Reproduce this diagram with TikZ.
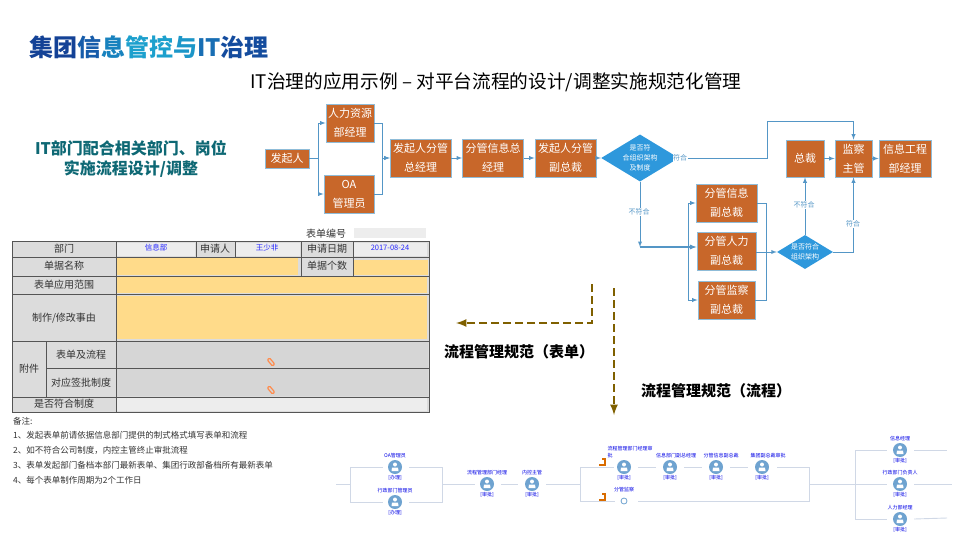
\documentclass[tikz,border=0pt]{standalone}
\usepackage{fontspec}
\setmainfont{Noto Sans CJK SC}
\usetikzlibrary{arrows}
\usetikzlibrary{shapes.geometric}
\definecolor{myorange}{RGB}{200, 103, 42}
\definecolor{myedge}{RGB}{143, 188, 216}
\definecolor{myflow}{RGB}{84, 150, 198}
\definecolor{mydiamond}{RGB}{46, 152, 220}
\definecolor{mybrown}{RGB}{127, 96, 0}
\definecolor{myteal}{RGB}{14, 104, 116}
\definecolor{myyellow}{RGB}{255, 219, 138}
\definecolor{mycell}{RGB}{220, 220, 220}
\definecolor{myinput}{RGB}{237, 237, 237}
\definecolor{myattach}{RGB}{214, 214, 214}
\definecolor{myrule}{RGB}{85, 85, 85}
\definecolor{myuser}{RGB}{111, 163, 208}
\definecolor{mybranch}{RGB}{208, 216, 230}
\tikzset{
  stepbox/.style={draw=myedge,fill=myorange,text=white,line width=0.8pt,inner sep=0pt,align=center,font=\fontsize{11}{19}\selectfont},
  askbox/.style={diamond,aspect=1.65,fill=mydiamond,text=white,inner sep=0pt,minimum width=56pt,minimum height=34pt,align=center,font=\fontsize{7}{9.7}\selectfont},
  flow/.style={draw=myflow,line width=0.9pt,-latex},
  flowplain/.style={draw=myflow,line width=0.9pt},
  flowtag/.style={fill=white,text=myflow,inner sep=0.5pt,font=\fontsize{7}{8}\selectfont},
  formtext/.style={text=black!80,inner sep=0pt,font=\fontsize{10}{11}\selectfont},
  formvalue/.style={text=blue!85!white,inner sep=0pt,font=\fontsize{7.5}{8}\selectfont},
  notetext/.style={anchor=west,text=black!80,inner sep=0pt,font=\fontsize{8.5}{10}\selectfont},
  refer/.style={draw=mybrown,line width=2.5pt,dash pattern=on 8pt off 4pt,-latex},
  refertext/.style={inner sep=0pt,font=\bfseries\fontsize{15}{17}\selectfont},
  user/.style={circle,fill=myuser,inner sep=0pt,minimum size=14pt},
  usertext/.style={text=blue!90!black,inner sep=0pt,align=left,font=\fontsize{5}{6.5}\selectfont},
  branch/.style={draw=mybranch,line width=0.9pt,shorten >=7pt,shorten <=7pt},
  branchline/.style={draw=mybranch,line width=0.9pt},
}
\begin{document}
\begin{tikzpicture}[x=1pt,y=-1pt]
  \useasboundingbox (0,0) rectangle (960,540);

  %Title
  \node[anchor=west,inner sep=0pt,font=\bfseries\fontsize{24}{26}\selectfont] (title) at (29,47) {%
    \textcolor[RGB]{20,66,150}{集团}\textcolor[RGB]{22,92,170}{信}\textcolor[RGB]{24,130,190}{息}\textcolor[RGB]{28,160,205}{管控}\textcolor[RGB]{28,150,200}{与}\textcolor[RGB]{24,110,180}{IT}\textcolor[RGB]{20,76,158}{治理}};
  \node[inner sep=0pt,font=\fontsize{18.7}{22}\selectfont] (subtitle) at (496,82) {IT治理的应用示例 – 对平台流程的设计/调整实施规范化管理};
  \node[text=myteal,align=center,font=\bfseries\fontsize{16}{20}\selectfont] (lead) at (131,158.5) {IT部门配合相关部门、岗位\\实施流程设计/调整};

  %Flow, first row
  \node[stepbox,minimum width=44pt,minimum height=19pt] (start) at (287,158.5) {发起人};
  \node[stepbox,minimum width=48pt,minimum height=38pt] (hr) at (350,123) {人力资源\\部经理};
  \node[stepbox,minimum width=50pt,minimum height=38pt] (oa) at (349,194) {OA\\管理员};
  \node[stepbox,minimum width=61pt,minimum height=38pt] (gm) at (420.5,158) {发起人分管\\总经理};
  \node[stepbox,minimum width=61pt,minimum height=38pt] (info) at (493,158) {分管信息总\\经理};
  \node[stepbox,minimum width=61pt,minimum height=38pt] (vp) at (565.5,158) {发起人分管\\副总裁};
  \node[askbox] (ask) at (640,158) {是否符\\合组织架构\\及制度};
  \node[stepbox,minimum width=38pt,minimum height=37pt] (ceo) at (805,158.5) {总裁};
  \node[stepbox,minimum width=37pt,minimum height=37pt] (audit) at (853.5,158.5) {监察\\主管};
  \node[stepbox,minimum width=52pt,minimum height=37pt] (eng) at (905,158.5) {信息工程\\部经理};

  %Flow, second column
  \node[stepbox,minimum width=61pt,minimum height=38pt] (vpinfo) at (726.5,203) {分管信息\\副总裁};
  \node[stepbox,minimum width=59pt,minimum height=38pt] (vphr) at (726.5,251) {分管人力\\副总裁};
  \node[stepbox,minimum width=57pt,minimum height=38pt] (vpaudit) at (726.5,300) {分管监察\\副总裁};
  \node[askbox] (ask2) at (805,252) {是否符合\\组织架构};

  \coordinate (drop) at (640,247);
  \coordinate (joinleft) at (688,251);
  \coordinate (joinright) at (766,252);
  \coordinate (jumpa) at (767,121);

  \draw[flow] (start.east) -- ++(9,0) |- (hr.west);
  \draw[flow] (start.east) -- ++(9,0) |- (oa.west);
  \draw[flow] (hr.east) -- ++(8,0) |- (gm.west);
  \draw[flow] (oa.east) -- ++(8,0) |- (gm.west);
  \draw[flow] (gm) -- (info);
  \draw[flow] (info) -- (vp);
  \draw[flow] (vp) -- (ask);
  \draw[flowplain] (ask.east) -| (jumpa);
  \draw[flow] (jumpa) -| (audit.north);
  \node[flowtag] (yes) at (680,158) {符合};
  \draw[flow] (ask.south) -- (drop);
  \node[flowtag] (no) at (639,212) {不符合};
  \draw[flow,line width=1.3pt] (drop) -- (vphr.west |- drop);
  \draw[flow] (joinleft) |- (vpinfo.west);
  \draw[flow] (joinleft) |- (vpaudit.west);
  \draw[flowplain] (vpinfo.east) -| (joinright);
  \draw[flowplain] (vpaudit.east) -| (joinright);
  \draw[flow] (vphr.east |- ask2) -- (ask2.west);
  \draw[flow] (ask2.north) -- (ceo.south);
  \node[flowtag] (no2) at (804,205) {不符合};
  \draw[flow] (ask2.east) -| (audit.south);
  \node[flowtag] (yes2) at (853,224) {符合};
  \draw[flow] (ceo) -- (audit);
  \draw[flow] (audit) -- (eng);

  %Form
  \fill[myinput] (354,228) rectangle (426,238);
  \node[formtext] (formno) at (326,234) {表单编号};
  \fill[mycell] (12,241) rectangle (429,412);
  \fill[myinput] (117,243) rectangle (195,256);
  \fill[myinput] (236,243) rectangle (300,256);
  \fill[myinput] (354,243) rectangle (427,256);
  \fill[myyellow] (117,258) rectangle (298,275);
  \fill[myyellow] (354,260) rectangle (428,275);
  \fill[myyellow] (117,277) rectangle (427,293);
  \fill[myyellow] (117,296) rectangle (427,339);
  \fill[myattach] (117,342) rectangle (428,396);
  \fill[myinput] (117,398) rectangle (427,411);
  \draw[myrule,line width=1pt] (12,241) rectangle (429,412);
  \foreach \y in {257,276,294,341,397}
    \draw[myrule,line width=1pt] (12,\y) -- (429,\y);
  \draw[myrule,line width=1pt] (46,368) -- (429,368);
  \draw[myrule,line width=1pt] (46,341) -- (46,397);
  \draw[myrule,line width=1pt] (116,241) -- (116,412);
  \foreach \x in {196,235}
    \draw[myrule,line width=1pt] (\x,241) -- (\x,257);
  \foreach \x in {301,353}
    \draw[myrule,line width=1pt] (\x,241) -- (\x,276);

  \node[formtext] (dept) at (64,249) {部门};
  \node[formtext] (applicant) at (215,249) {申请人};
  \node[formtext] (date) at (327,249) {申请日期};
  \node[formtext] (billname) at (64,266) {单据名称};
  \node[formtext] (billcount) at (327,266) {单据个数};
  \node[formtext] (scope) at (64,285) {表单应用范围};
  \node[formtext] (reason) at (64,318) {制作/修改事由};
  \node[formtext] (annex) at (29,369) {附件};
  \node[formtext] (annexa) at (81,355) {表单及流程};
  \node[formtext] (annexb) at (81,383) {对应签批制度};
  \node[formtext] (comply) at (64,404) {是否符合制度};
  \node[formvalue] (deptval) at (156,248) {信息部};
  \node[formvalue] (applval) at (267,248) {王少非};
  \node[formvalue] (dateval) at (390,248) {2017-08-24};

  %Clips
  \foreach \y in {362,390}
    \draw[rotate around={-50:(271,\y)},draw=orange!70!red!70!white,line width=1.2pt,rounded corners=1pt] (267,\y-1.5) rectangle (275,\y+1.5);

  %Notes
  \node[notetext] (note) at (13,421) {备注:};
  \node[notetext] (notea) at (13,435) {1、发起表单前请依据信息部门提供的制式格式填写表单和流程};
  \node[notetext] (noteb) at (13,450) {2、如不符合公司制度，内控主管终止审批流程};
  \node[notetext] (notec) at (13,465) {3、表单发起部门备档本部门最新表单、集团行政部备档所有最新表单};
  \node[notetext] (noted) at (13,480) {4、每个表单制作周期为2个工作日};

  %Dashed pointers
  \coordinate (forma) at (592,284);
  \coordinate (formb) at (592,323);
  \coordinate (forme) at (456,323);
  \coordinate (proca) at (614,288);
  \coordinate (proce) at (614,415);
  \draw[refer] (forma) -- (formb) -- (forme);
  \draw[refer] (proca) -- (proce);
  \node[refertext] (formref) at (519,352) {流程管理规范（表单）};
  \node[refertext] (procref) at (716,391) {流程管理规范（流程）};

  %Approval chain
  \foreach \n/\x/\y/\o/\t/\b in {
    ua/395/467/0/OA管理员/[办理],
    ub/395/502/0/行政部门管理员/[办理],
    uc/487/484/0/流程管理部门经理/[审批],
    ud/532/484/0/内控主管/[审批],
    ue/624/467/6/{流程管理部门经理审\\批}/[审批],
    uf/670/467/6/信息部门副总经理/[审批],
    ug/716/467/5/分管信息副总裁/[审批],
    uh/762/467/6/集团副总裁审批/[审批],
    ui/900/450/0/信息经理/[审批],
    uj/900/484/0/行政部门负责人/[审批],
    uk/900/519/0/人力部经理/[审批]}
  {
    \node[user] (\n) at (\x,\y) {};
    \fill[white] (\x,\y-2.5) circle (2);
    \fill[white] (\x-3.5,\y+4) -- (\x-3,\y+0.5) -- (\x+3,\y+0.5) -- (\x+3.5,\y+4) -- cycle;
    \node[usertext,anchor=south] (\n t) at (\x+\o,\y-9) {\t};
    \node[usertext] (\n b) at (\x,\y+11) {\b};
  }
  \node[draw=myuser,circle,fill=white,inner sep=0pt,minimum size=6pt,line width=0.8pt] (ul) at (624,501) {};
  \node[usertext] (ult) at (624,490) {分管监察};

  \coordinate (ca) at (336,484);
  \coordinate (cb) at (350,484);
  \coordinate (cc) at (442,484);
  \coordinate (cd) at (580,484);
  \coordinate (ce) at (809,484);
  \coordinate (cf) at (855,484);
  \coordinate (cg) at (947,450);
  \coordinate (ch) at (952,484);
  \coordinate (ci) at (947,518);

  \draw[branchline] (ca) -- (cb);
  \draw[branchline] (cb) |- ([xshift=-5pt]ua.west);
  \draw[branchline] (cb) |- ([xshift=-5pt]ub.west);
  \draw[branchline] ([xshift=7pt]ua.east) -| (cc);
  \draw[branchline] ([xshift=7pt]ub.east) -| (cc);
  \draw[branchline] (cc) -- ([xshift=-5pt]uc.west);
  \draw[branch] (uc) -- (ud);
  \draw[branchline] ([xshift=7pt]ud.east) -- (cd);
  \draw[branchline] (cd) |- ([xshift=-3pt]ue.west);
  \draw[branchline] (cd) |- ([xshift=-6pt]ul.west);
  \draw[branch] (ue) -- (uf);
  \draw[branch] (uf) -- (ug);
  \draw[branch] (ug) -- (uh);
  \draw[branchline] ([xshift=8pt]uh.east) -| (ce);
  \draw[branchline] ([xshift=11pt]ul.east) -| (ce);
  \draw[branchline] (ce) -- (cf);
  \draw[branchline] (cf) |- ([xshift=-6pt]ui.west);
  \draw[branchline] (cf) -- ([xshift=-6pt]uj.west);
  \draw[branchline] (cf) |- ([xshift=-6pt]uk.west);
  \draw[branchline] ([xshift=7pt]ui.east) -- (cg);
  \draw[branchline] ([xshift=7pt]uj.east) -- (ch);
  \draw[branchline] ([xshift=7pt]uk.east) -- (ci);

  %Marks on the two branches
  \foreach \y in {462,497}
    \draw[orange!85!black,line width=1.5pt] (599,\y+3) -- (605,\y+3) -- (605,\y-3) -- (602,\y-3);

\end{tikzpicture}
\end{document}
